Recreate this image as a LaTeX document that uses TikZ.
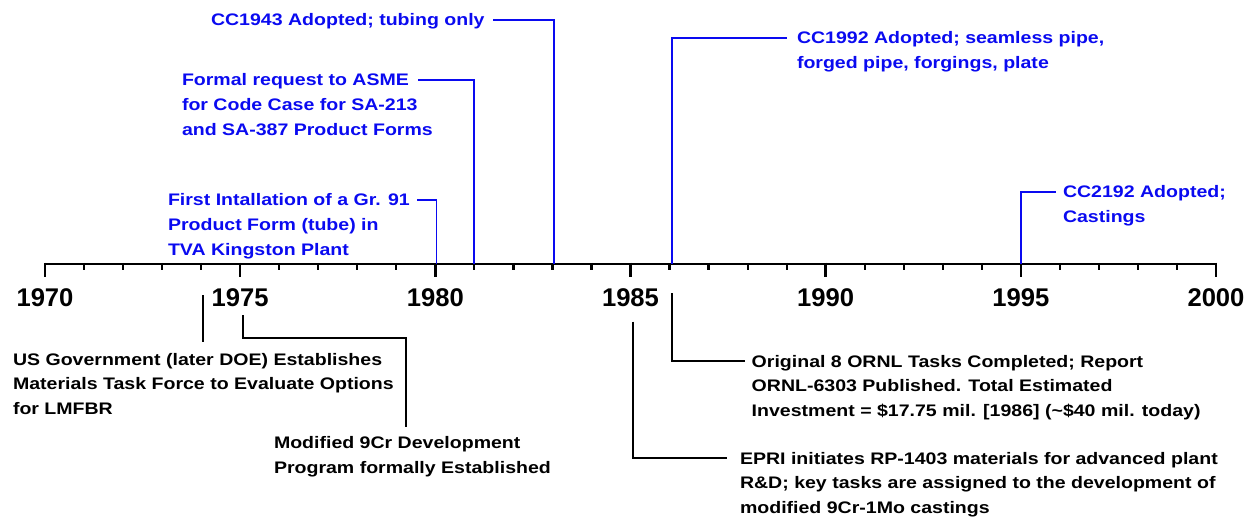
\documentclass[tikz,border=0pt]{standalone}
\usepackage{fontspec}
\newfontfamily\evfont{Liberation Sans}[FakeStretch=1.17]
\newfontfamily\yrfont{Liberation Sans}
\definecolor{evblue}{RGB}{10,10,240}
\tikzset{
  ev/.style={anchor=base west, inner sep=0pt, outer sep=0pt,
    font=\evfont\bfseries\fontsize{16.7}{24.8}\selectfont},
  evb/.style={ev, text=evblue},
  evk/.style={ev, text=black},
  yrlab/.style={anchor=base, inner sep=0pt, font=\yrfont\bfseries\fontsize{25.6}{30}\selectfont},
  axisln/.style={line width=2.4pt},
  minortick/.style={line width=2.2pt},
  majortick/.style={line width=2.4pt},
  bconn/.style={draw=evblue, line width=1.9pt},
  kconn/.style={draw=black, line width=1.8pt},
}
\begin{document}
\begin{tikzpicture}[x=1pt,y=-1pt]
\useasboundingbox (0,0) rectangle (1255,521);
% axis
\coordinate (axL) at (45,264);
\coordinate (axR) at (1216,264);
\draw[axisln] (axL) -- (axR);
\foreach \i in {0,...,30} {
  \draw[minortick] ({45+\i*39.033},263) -- ++(0,7);
}
\foreach \i/\yr in {0/1970,5/1975,10/1980,15/1985,20/1990,25/1995,30/2000} {
  \draw[majortick] ({45+\i*39.033},263) -- ++(0,14);
  \node[yrlab] (y\yr) at ({45+\i*39.033},306.5) {\yr};
}
% ---- blue events (above)
\coordinate (a80) at (436.5,264); \coordinate (h80) at (417,200);
\draw[bconn] (a80) |- (h80);
\node[evb] (t80) at (168,205.5) {\begin{tabular}[t]{@{}l@{}}First Intallation of a Gr. 91\\Product Form (tube) in\\TVA Kingston Plant\end{tabular}};

\coordinate (a81) at (474,264); \coordinate (h81) at (418,80);
\draw[bconn] (a81) |- (h81);
\node[evb] (t81) at (182,86) {\begin{tabular}[t]{@{}l@{}}Formal request to ASME\\for Code Case for SA-213\\and SA-387 Product Forms\end{tabular}};

\coordinate (a83) at (553.7,264); \coordinate (h83) at (493,20);
\draw[bconn] (a83) |- (h83);
\node[evb] (t83) at (211,26) {CC1943 Adopted; tubing only};

\coordinate (a86) at (671.7,264); \coordinate (h86) at (787,37.7);
\draw[bconn] (a86) |- (h86);
\node[evb] (t86) at (797,43.5) {\begin{tabular}[t]{@{}l@{}}CC1992 Adopted; seamless pipe,\\forged pipe, forgings, plate\end{tabular}};

\coordinate (a95) at (1020.7,264); \coordinate (h95) at (1055.7,192.3);
\draw[bconn] (a95) |- (h95);
\node[evb] (t95) at (1063,198) {\begin{tabular}[t]{@{}l@{}}CC2192 Adopted;\\Castings\end{tabular}};

% ---- black events (below)
\coordinate (k74s) at (203.3,295); \coordinate (k74e) at (203.3,342);
\draw[kconn] (k74s) -- (k74e);
\node[evk] (t74) at (13,365) {\begin{tabular}[t]{@{}l@{}}US Government (later DOE) Establishes\\Materials Task Force to Evaluate Options\\for LMFBR\end{tabular}};

\coordinate (k75s) at (243.3,315); \coordinate (k75m) at (405.7,338.3); \coordinate (k75e) at (405.7,426.7);
\draw[kconn] (k75s) |- (k75m) -- (k75e);
\node[evk] (t75) at (274,448.5) {\begin{tabular}[t]{@{}l@{}}Modified 9Cr Development\\Program formally Established\end{tabular}};

\coordinate (k85s) at (633,321.7); \coordinate (k85e) at (726.7,458);
\draw[kconn] (k85s) |- (k85e);
\node[evk] (t85) at (740,464) {\begin{tabular}[t]{@{}l@{}}EPRI initiates RP-1403 materials for advanced plant\\R\&D; key tasks are assigned to the development of\\modified 9Cr-1Mo castings\end{tabular}};

\coordinate (k86s) at (672,293); \coordinate (k86e) at (745,361);
\draw[kconn] (k86s) |- (k86e);
\node[evk] (t86k) at (751.7,367) {\begin{tabular}[t]{@{}l@{}}Original 8 ORNL Tasks Completed; Report\\ORNL-6303 Published. Total Estimated\\Investment = \$17.75 mil. [1986] (\textasciitilde\$40 mil. today)\end{tabular}};
\end{tikzpicture}
\end{document}
